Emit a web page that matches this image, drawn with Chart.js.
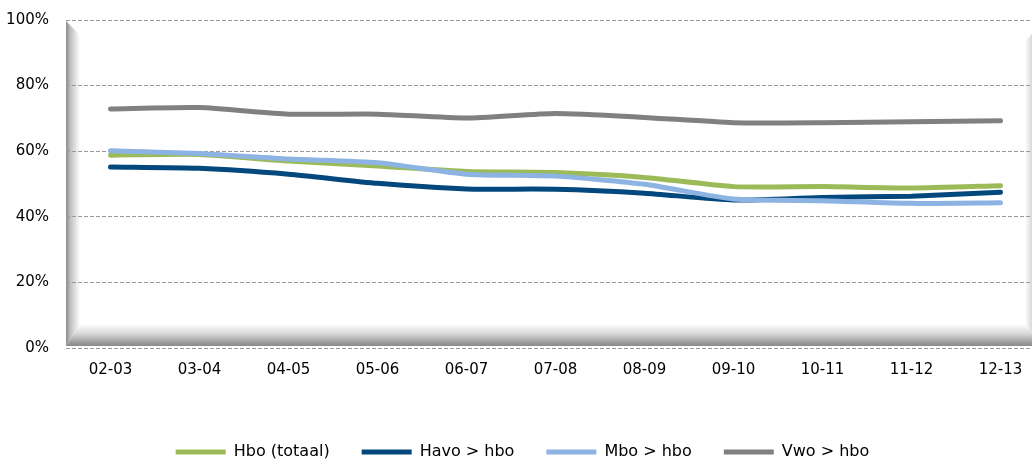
<!DOCTYPE html>
<html lang="nl">
<head>
  <meta charset="UTF-8" />
  <title>Doorstroom naar hbo</title>
  <script src="https://cdn.jsdelivr.net/npm/chart.js"></script>
  <style>
    html,body{margin:0;padding:0;background:#fff;overflow:hidden;}
    #wrap{position:relative;width:1062px;height:470px;}
  </style>
</head>
<body>
  <div id="wrap"><canvas id="chart"></canvas></div>

<script>
  // categories (schooljaren) and series, in percent
  const years=['02-03','03-04','04-05','05-06','06-07','07-08','08-09','09-10','10-11','11-12','12-13'];
  const hbo =[58.8,59.0,57.0,55.5,53.8,53.5,52.0,49.2,49.2,48.8,49.5];
  const havo=[55.2,54.8,53.0,50.2,48.5,48.4,47.2,45.1,45.9,46.3,47.5];
  const mbo =[60.1,59.3,57.6,56.5,53.0,52.4,49.9,45.4,44.9,44.1,44.3];
  const vwo =[72.9,73.3,71.3,71.3,70.1,71.5,70.3,68.7,68.7,69.0,69.3];
  const yTicks=[0,20,40,60,80,100];

  const FONT="'DejaVu Sans'";

  // Excel-like bevelled plot area, drawn under the grid
  const bevel={
    id:'bevel',
    beforeDraw(chart){
      const {ctx,chartArea:a}=chart;
      const L=a.left,T=a.top+1,R=a.right,B=a.bottom-2;
      const lw=14,bw=22,rw=20;
      ctx.save();
      // left band
      let g=ctx.createLinearGradient(L,0,L+lw,0);
      g.addColorStop(0,'#8c8c8c');g.addColorStop(0.35,'#c4c4c4');g.addColorStop(1,'#ffffff');
      ctx.fillStyle=g;ctx.beginPath();
      ctx.moveTo(L,T);ctx.lineTo(L+lw,T+lw);ctx.lineTo(L+lw,B-bw);ctx.lineTo(L,B);ctx.closePath();ctx.fill();
      // right band
      g=ctx.createLinearGradient(R-rw,0,R,0);
      g.addColorStop(0,'#ffffff');g.addColorStop(0.6,'#bdbdbd');g.addColorStop(1,'#8c8c8c');
      ctx.fillStyle=g;ctx.beginPath();
      ctx.moveTo(R,T);ctx.lineTo(R-rw,T+rw);ctx.lineTo(R-rw,B-bw);ctx.lineTo(R,B);ctx.closePath();ctx.fill();
      // bottom band
      g=ctx.createLinearGradient(0,B-bw,0,B);
      g.addColorStop(0,'#ffffff');g.addColorStop(0.45,'#d6d6d6');g.addColorStop(0.85,'#9a9a9a');g.addColorStop(1,'#8a8a8a');
      ctx.fillStyle=g;ctx.beginPath();
      ctx.moveTo(L,B);ctx.lineTo(L+lw,B-bw);ctx.lineTo(R-rw,B-bw);ctx.lineTo(R,B);ctx.closePath();ctx.fill();
      ctx.restore();
    }
  };

  const mk=(label,data,color,order)=>({label,data,borderColor:color,backgroundColor:color,
    borderWidth:5,pointRadius:0,tension:0.2,borderCapStyle:'round',borderJoinStyle:'round',fill:false,order});

  new Chart(document.getElementById('chart'),{
    type:'line',
    data:{labels:years,datasets:[
      mk('Hbo (totaal)',hbo,'#9bbb59',4),
      mk('Havo > hbo',havo,'#03487c',3),
      mk('Mbo > hbo',mbo,'#8db3e2',2),
      mk('Vwo > hbo',vwo,'#808080',1)
    ]},
    options:{
      responsive:true,maintainAspectRatio:false,animation:false,
      layout:{padding:{top:20,right:17,left:0,bottom:0}},
      plugins:{
        tooltip:{enabled:false},
        legend:{position:'bottom',
          labels:{boxWidth:50,boxHeight:5,padding:32,color:'#000',
            font:{family:FONT,size:16},
            generateLabels(chart){
              return chart.data.datasets.map((d,i)=>({text:d.label,fillStyle:d.borderColor,strokeStyle:d.borderColor,lineWidth:0,datasetIndex:i,fontColor:'#000'}));
            }}
        }
      },
      scales:{
        x:{offset:true,grid:{display:false,drawTicks:false},border:{display:false},
          ticks:{padding:13,color:'#000',font:{family:FONT,size:15}},
          afterFit(s){s.height=64;}},
        y:{min:0,max:100,
          afterBuildTicks(s){s.ticks=yTicks.map(v=>({value:v}));},
          // invisible tick marks push the labels left without adding top padding
          grid:{color:'#9a9a9a',drawTicks:true,tickLength:16,tickColor:'rgba(0,0,0,0)'},
          border:{display:false,dash:[4,2]},
          ticks:{padding:1,color:'#000',font:{family:FONT,size:15},callback:v=>v+'%'},
          afterFit(s){s.width=66;}}
      }
    },
    plugins:[bevel]
  });
</script>
</body>
</html>
